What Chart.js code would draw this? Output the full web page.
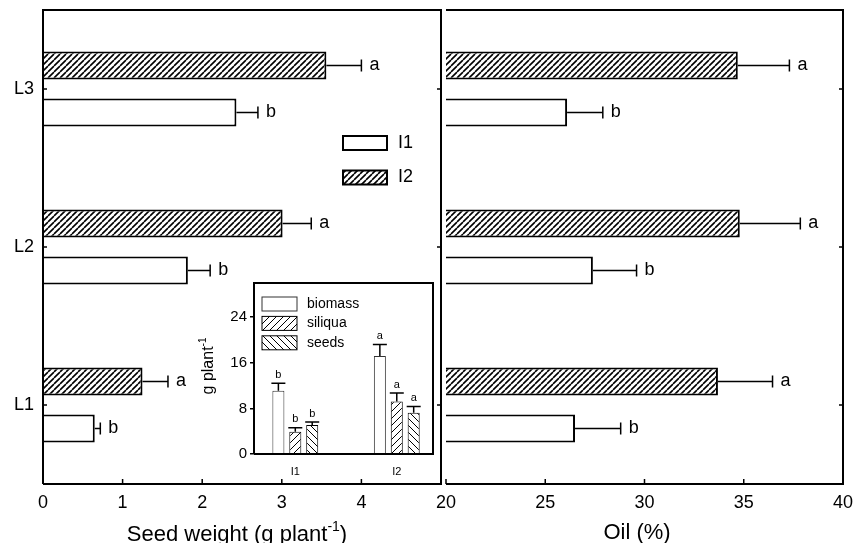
<!DOCTYPE html>
<html>
<head>
<meta charset="utf-8">
<script src="https://cdn.jsdelivr.net/npm/chart.js@4.4.1/dist/chart.umd.min.js"></script>
<style>
  html, body { margin: 0; padding: 0; background: #fff; }
  #wrap { position: relative; width: 857px; height: 543px; overflow: hidden; }
  canvas { position: absolute; }
</style>
</head>
<body>
<div id="wrap">
  <canvas id="seedChart" width="443" height="543" style="left:0;top:0"></canvas>
  <canvas id="oilChart" width="436" height="543" style="left:421px;top:0"></canvas>
  <canvas id="insetChart" width="246" height="212" style="left:190px;top:270px"></canvas>
</div>
<script>
// lines, top to bottom as in the figure
const lines = ['L3', 'L2', 'L1'];
const irrigation = ['I1', 'I2'];

// seed weight (g plant-1)
const seedI1 = [2.43, 1.82, 0.65];
const seedI1Err = [0.27, 0.28, 0.07];
const seedI2 = [3.56, 3.01, 1.25];
const seedI2Err = [0.44, 0.36, 0.32];

// oil (%)
const oilI1 = [26.1, 27.4, 26.5];
const oilI1Err = [1.8, 2.2, 2.3];
const oilI2 = [34.7, 34.8, 33.7];
const oilI2Err = [2.6, 3.05, 2.75];

const lettersI1 = ['b', 'b', 'b'];
const lettersI2 = ['a', 'a', 'a'];

// inset, g plant-1 for I1 and I2
const biomass = [11.1, 17.2];
const biomassErr = [1.3, 2.0];
const siliqua = [3.9, 9.2];
const siliquaErr = [0.7, 1.5];
const seeds = [5.1, 7.25];
const seedsErr = [0.5, 1.1];
const insetLetters = ['b', 'a'];

const seedTicks = [0, 1, 2, 3, 4];
const oilTicks = [20, 25, 30, 35, 40];
const insetTicks = [0, 8, 16, 24];

const FONT = '"Liberation Sans", Arial, sans-serif';
Chart.defaults.font.family = FONT;
Chart.defaults.color = '#000';

// hatch fill, dir 1 = '/', -1 = '\'
function hatch(size, width, dir) {
    const c = document.createElement('canvas');
    c.width = size; c.height = size;
    const g = c.getContext('2d');
    g.fillStyle = '#fff';
    g.fillRect(0, 0, size, size);
    g.strokeStyle = '#000';
    g.lineWidth = width;
    g.beginPath();
    for (let k = -1; k <= 1; k++) {
        const o = k * size;
        if (dir > 0) { g.moveTo(o, size); g.lineTo(o + size, 0); }
        else { g.moveTo(o, 0); g.lineTo(o + size, size); }
    }
    g.stroke();
    return g.createPattern(c, 'repeat');
}
const hatchMain = hatch(6, 1.6, 1);
const hatchSiliqua = hatch(7, 1, 1);
const hatchSeeds = hatch(7, 1, -1);

// no label overhang padding, the boxes are placed by hand
function noPad(s) {
    s.paddingTop = 0; s.paddingBottom = 0;
    s.paddingLeft = 0; s.paddingRight = 0;
}

const errorBars = {
    id: 'errorBars',
    afterDatasetsDraw(chart, args, o) {
        const ctx = chart.ctx;
        const horiz = chart.options.indexAxis === 'y';
        const vScale = horiz ? chart.scales.x : chart.scales.y;
        ctx.save();
        ctx.strokeStyle = '#000';
        ctx.fillStyle = '#000';
        ctx.lineWidth = o.lineWidth;
        ctx.font = o.font;
        chart.data.datasets.forEach((ds, di) => {
            const meta = chart.getDatasetMeta(di);
            meta.data.forEach((bar, i) => {
                const p = meta.controller.getParsed(i);
                const v = horiz ? p.x : p.y;
                const end = vScale.getPixelForValue(v + ds.errors[i]);
                ctx.beginPath();
                if (horiz) {
                    ctx.moveTo(bar.x, bar.y); ctx.lineTo(end, bar.y);
                    ctx.moveTo(end, bar.y - o.cap); ctx.lineTo(end, bar.y + o.cap);
                } else {
                    ctx.moveTo(bar.x, bar.y); ctx.lineTo(bar.x, end);
                    ctx.moveTo(bar.x - o.cap, end); ctx.lineTo(bar.x + o.cap, end);
                }
                ctx.stroke();
                if (horiz) {
                    ctx.textAlign = 'left'; ctx.textBaseline = 'middle';
                    ctx.fillText(ds.letters[i], end + o.gap, bar.y);
                } else {
                    ctx.textAlign = 'center'; ctx.textBaseline = 'bottom';
                    ctx.fillText(ds.letters[i], bar.x, end - o.gap);
                }
            });
        });
        ctx.restore();
    }
};

const frame = {
    id: 'frame',
    afterDatasetsDraw(chart, args, o) {
        const ctx = chart.ctx;
        const a = chart.chartArea;
        ctx.save();
        ctx.strokeStyle = '#000';
        ctx.lineWidth = o.lineWidth;
        ctx.beginPath();
        if (o.left) { ctx.moveTo(a.left, a.bottom); ctx.lineTo(a.left, a.top); }
        else ctx.moveTo(a.left, a.top);
        ctx.lineTo(a.right, a.top);
        ctx.lineTo(a.right, a.bottom);
        ctx.lineTo(a.left, a.bottom);
        ctx.stroke();
        if (o.tickLen) {
            const xs = chart.scales.x, ys = chart.scales.y;
            ctx.lineWidth = 1.5;
            ctx.beginPath();
            xs.ticks.forEach((t, i) => {
                const px = xs.getPixelForTick(i);
                if (px < a.right - 1) { ctx.moveTo(px, a.bottom); ctx.lineTo(px, a.bottom - o.tickLen); }
            });
            ys.ticks.forEach((t, i) => {
                const py = ys.getPixelForTick(i);
                if (o.left) { ctx.moveTo(a.left, py); ctx.lineTo(a.left + 4, py); }
                ctx.moveTo(a.right, py); ctx.lineTo(a.right - 4, py);
            });
            ctx.stroke();
        }
        ctx.restore();
    }
};

const boxLegend = {
    id: 'boxLegend',
    afterDraw(chart, args, o) {
        if (!o.items) return;
        const ctx = chart.ctx;
        ctx.save();
        ctx.font = o.font;
        ctx.textBaseline = 'middle';
        ctx.textAlign = 'left';
        o.items.forEach((name, i) => {
            const ds = chart.data.datasets.find(d => d.label === name);
            const top = o.y + i * o.step;
            ctx.fillStyle = ds.backgroundColor;
            ctx.fillRect(o.x, top, o.w, o.h);
            ctx.lineWidth = o.lineWidth;
            ctx.strokeStyle = ds.borderColor;
            ctx.strokeRect(o.x, top, o.w, o.h);
            ctx.fillStyle = '#000';
            ctx.fillText(name, o.x + o.w + o.gap, top + o.h / 2);
        });
        ctx.restore();
    }
};

const axisText = {
    id: 'axisText',
    afterDraw(chart, args, o) {
        const ctx = chart.ctx;
        ctx.save();
        ctx.fillStyle = '#000';
        ctx.translate(o.x, o.y);
        if (o.rotate) ctx.rotate(-Math.PI / 2);
        ctx.font = o.font;
        const w1 = ctx.measureText(o.text).width;
        const w3 = o.tail ? ctx.measureText(o.tail).width : 0;
        ctx.font = o.supFont || o.font;
        const w2 = o.sup ? ctx.measureText(o.sup).width : 0;
        let x = -(w1 + w2 + w3) / 2;
        ctx.textBaseline = 'middle';
        ctx.textAlign = 'left';
        ctx.font = o.font;
        ctx.fillText(o.text, x, 0);
        x += w1;
        if (o.sup) {
            ctx.font = o.supFont;
            ctx.fillText(o.sup, x, -o.supRise);
            x += w2;
            ctx.font = o.font;
        }
        if (o.tail) ctx.fillText(o.tail, x, 0);
        ctx.restore();
    }
};

function hbarDatasets(i1, e1, i2, e2) {
    return [
        { label: 'I2', data: i2, errors: e2, letters: lettersI2,
          backgroundColor: hatchMain, borderColor: '#000', borderWidth: 2 },
        { label: 'I1', data: i1, errors: e1, letters: lettersI1,
          backgroundColor: '#fff', borderColor: '#000', borderWidth: 2 }
    ];
}

const mainErr = { lineWidth: 1.5, cap: 6, gap: 8, font: '18px ' + FONT };

// left panel: seed weight
new Chart(document.getElementById('seedChart'), {
    type: 'bar',
    data: { labels: lines, datasets: hbarDatasets(seedI1, seedI1Err, seedI2, seedI2Err) },
    options: {
        indexAxis: 'y',
        responsive: false,
        animation: false,
        events: [],
        devicePixelRatio: 1,
        layout: { padding: { top: 10, right: 2, left: 0, bottom: 0 } },
        datasets: { bar: { categoryPercentage: 0.595, barPercentage: 0.6 } },
        scales: {
            x: {
                min: 0, max: 5,
                afterBuildTicks: s => { s.ticks = seedTicks.map(v => ({ value: v })); },
                afterFit: s => { s.height = 59; noPad(s); },
                grid: { display: false, drawTicks: false },
                border: { display: false },
                ticks: { font: { size: 18 }, padding: 8 }
            },
            y: {
                afterFit: s => { s.width = 43; noPad(s); },
                grid: { display: false, drawTicks: false },
                border: { display: false },
                ticks: { font: { size: 18 }, padding: 9 }
            }
        },
        plugins: {
            legend: { display: false },
            tooltip: { enabled: false },
            errorBars: mainErr,
            frame: { lineWidth: 2, left: true, tickLen: 5 },
            boxLegend: { items: ['I1', 'I2'], x: 343, y: 136, w: 44, h: 14, step: 34.5,
                         gap: 11, lineWidth: 2, font: '18px ' + FONT },
            axisText: { text: 'Seed weight (g plant', sup: '-1', tail: ')', x: 237, y: 535,
                        font: '22px ' + FONT, supFont: '14px ' + FONT, supRise: 8 }
        }
    },
    plugins: [errorBars, frame, boxLegend, axisText]
});

// right panel: oil
new Chart(document.getElementById('oilChart'), {
    type: 'bar',
    data: { labels: lines, datasets: hbarDatasets(oilI1, oilI1Err, oilI2, oilI2Err) },
    options: {
        indexAxis: 'y',
        responsive: false,
        animation: false,
        events: [],
        devicePixelRatio: 1,
        layout: { padding: { top: 10, right: 14, left: 0, bottom: 0 } },
        datasets: { bar: { categoryPercentage: 0.595, barPercentage: 0.6 } },
        scales: {
            x: {
                min: 20, max: 40,
                afterBuildTicks: s => { s.ticks = oilTicks.map(v => ({ value: v })); },
                afterFit: s => { s.height = 59; noPad(s); },
                grid: { display: false, drawTicks: false },
                border: { display: false },
                ticks: { font: { size: 18 }, padding: 8 }
            },
            y: {
                afterFit: s => { s.width = 25; noPad(s); },
                grid: { display: false, drawTicks: false },
                border: { display: false },
                ticks: { display: false }
            }
        },
        plugins: {
            legend: { display: false },
            tooltip: { enabled: false },
            errorBars: mainErr,
            frame: { lineWidth: 2, left: false, tickLen: 5 },
            boxLegend: {},
            axisText: { text: 'Oil (%)', x: 216, y: 533, font: '22px ' + FONT }
        }
    },
    plugins: [errorBars, frame, boxLegend, axisText]
});

// inset: biomass, siliqua and seeds per irrigation level
const xy = vals => vals.map((v, i) => ({ x: i + 1, y: v }));
new Chart(document.getElementById('insetChart'), {
    type: 'bar',
    data: {
        datasets: [
            { label: 'biomass', data: xy(biomass), errors: biomassErr, letters: insetLetters,
              backgroundColor: '#fff', borderColor: '#333', borderWidth: 1 },
            { label: 'siliqua', data: xy(siliqua), errors: siliquaErr, letters: insetLetters,
              backgroundColor: hatchSiliqua, borderColor: '#000', borderWidth: 1 },
            { label: 'seeds', data: xy(seeds), errors: seedsErr, letters: insetLetters,
              backgroundColor: hatchSeeds, borderColor: '#000', borderWidth: 1 }
        ]
    },
    options: {
        responsive: false,
        animation: false,
        events: [],
        devicePixelRatio: 1,
        layout: { padding: { top: 13, right: 3, left: 0, bottom: 0 } },
        datasets: { bar: { categoryPercentage: 0.5, barPercentage: 0.71 } },
        scales: {
            x: {
                type: 'linear',
                offset: false,
                bounds: 'data',
                min: 0.593, max: 2.357,
                afterBuildTicks: s => { s.ticks = irrigation.map((n, i) => ({ value: i + 1 })); },
                afterFit: s => { s.height = 28; noPad(s); },
                grid: { display: false, drawTicks: false, offset: false },
                border: { display: false },
                ticks: { font: { size: 11 }, padding: 11, callback: v => irrigation[v - 1] }
            },
            y: {
                min: 0, max: 30,
                afterBuildTicks: s => { s.ticks = insetTicks.map(v => ({ value: v })); },
                afterFit: s => { s.width = 64; noPad(s); },
                grid: { drawOnChartArea: false, tickLength: 4, color: '#000', lineWidth: 1.5 },
                border: { display: false },
                ticks: { font: { size: 15 }, padding: 3 }
            }
        },
        plugins: {
            legend: { display: false },
            tooltip: { enabled: false },
            errorBars: { lineWidth: 1.5, cap: 7, gap: 3, font: '11px ' + FONT },
            frame: { lineWidth: 2, left: true, tickLen: 0 },
            boxLegend: { items: ['biomass', 'siliqua', 'seeds'], x: 72, y: 27, w: 35, h: 14,
                         step: 19.4, gap: 10, lineWidth: 1, font: '14px ' + FONT },
            axisText: { text: 'g plant', sup: '-1', x: 19, y: 96, rotate: true,
                        font: '16px ' + FONT, supFont: '10px ' + FONT, supRise: 6 }
        }
    },
    plugins: [errorBars, frame, boxLegend, axisText]
});
</script>
</body>
</html>
